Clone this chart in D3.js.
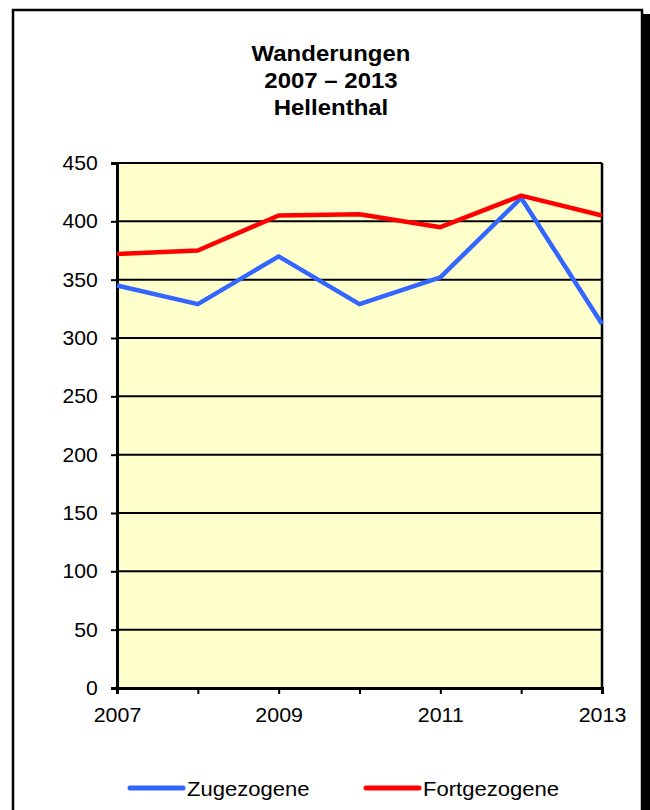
<!DOCTYPE html>
<html>
<head>
<meta charset="utf-8">
<script src="https://cdn.jsdelivr.net/npm/d3@7/dist/d3.min.js"></script>
<style>
  html, body { margin: 0; padding: 0; background: #fff; }
  svg { display: block; font-family: "Liberation Sans", Arial, sans-serif; }
</style>
</head>
<body>
<svg id="chart" width="650" height="810"></svg>
<script>
const years = [2007, 2008, 2009, 2010, 2011, 2012, 2013];
const zugezogene = [345, 329, 370, 329, 352, 420, 312];
const fortgezogene = [372, 375, 405, 406, 395, 422, 405];
const yTicks = [0, 50, 100, 150, 200, 250, 300, 350, 400, 450];
const xTickLabels = [2007, 2009, 2011, 2013];
const titleLines = ["Wanderungen", "2007 \u2013 2013", "Hellenthal"];
const seriesNames = ["Zugezogene", "Fortgezogene"];
const seriesColors = ["#3366ff", "#ff0000"];

const svg = d3.select("#chart");

// Frame with shadow
svg.append("rect").attr("x", 643).attr("y", 14).attr("width", 10).attr("height", 820).attr("fill", "#000");
svg.append("rect").attr("x", 13).attr("y", 10).attr("width", 629).attr("height", 830)
  .attr("fill", "#fff").attr("stroke", "#000").attr("stroke-width", 2.5);

// Title
titleLines.forEach((t, i) => {
  svg.append("text").attr("text-anchor", "middle")
    .attr("font-weight", "bold").attr("font-size", 22).attr("fill", "#000")
    .attr("transform", `translate(331,${61 + i * 27}) scale(1.09,1)`)
    .text(t);
});

const plot = { left: 117, right: 602, top: 163, bottom: 688 };
const x = d3.scaleLinear().domain([2007, 2013]).range([plot.left, plot.right]);
const y = d3.scaleLinear().domain([0, 450]).range([plot.bottom, plot.top]);

// Plot background
svg.append("rect").attr("x", plot.left).attr("y", plot.top)
  .attr("width", plot.right - plot.left).attr("height", plot.bottom - plot.top)
  .attr("fill", "#ffffcc");

// Gridlines
svg.append("g").selectAll("line").data(yTicks).join("line")
  .attr("x1", plot.left).attr("x2", plot.right)
  .attr("y1", d => y(d)).attr("y2", d => y(d))
  .attr("stroke", "#000").attr("stroke-width", 2);

// Right plot border
svg.append("line").attr("x1", plot.right).attr("x2", plot.right)
  .attr("y1", plot.top).attr("y2", plot.bottom).attr("stroke", "#000").attr("stroke-width", 2.5);

// Y axis
const yAxis = svg.append("g").attr("transform", `translate(${plot.left},0)`)
  .call(d3.axisLeft(y).tickValues(yTicks).tickSize(6).tickPadding(12).tickFormat(d3.format("d")));
yAxis.select(".domain").attr("stroke-width", 3);
yAxis.selectAll(".tick line").attr("stroke-width", 2);
yAxis.selectAll("text").attr("font-size", 20).attr("fill", "#000")
  .attr("font-family", "'Liberation Sans', Arial, sans-serif")
  .attr("transform", "scale(1.06,1)");

// X axis
const xAxis = svg.append("g").attr("transform", `translate(0,${plot.bottom})`)
  .call(d3.axisBottom(x).tickValues(years).tickSize(6).tickPadding(14)
    .tickFormat(d => xTickLabels.includes(d) ? String(d) : ""));
xAxis.select(".domain").attr("stroke-width", 3);
xAxis.selectAll(".tick line").attr("stroke-width", 2);
xAxis.selectAll("text").attr("font-size", 20).attr("fill", "#000")
  .attr("font-family", "'Liberation Sans', Arial, sans-serif")
  .attr("transform", "scale(1.07,1)");

// Lines
const line = d3.line().x((d, i) => x(years[i])).y(d => y(d));
[zugezogene, fortgezogene].forEach((s, k) => {
  svg.append("path").datum(s).attr("d", line)
    .attr("fill", "none").attr("stroke", seriesColors[k])
    .attr("stroke-width", 4.5).attr("stroke-linejoin", "round");
});

// Legend
const legendX = [130, 366];
seriesNames.forEach((n, k) => {
  const g = svg.append("g");
  g.append("line").attr("x1", legendX[k]).attr("x2", legendX[k] + 53)
    .attr("y1", 788).attr("y2", 788)
    .attr("stroke", seriesColors[k]).attr("stroke-width", 5).attr("stroke-linecap", "round");
  g.append("text").attr("transform", `translate(${legendX[k] + 57},796) scale(1.05,1)`)
    .attr("font-size", 21).attr("fill", "#000").text(n);
});
</script>
</body>
</html>
